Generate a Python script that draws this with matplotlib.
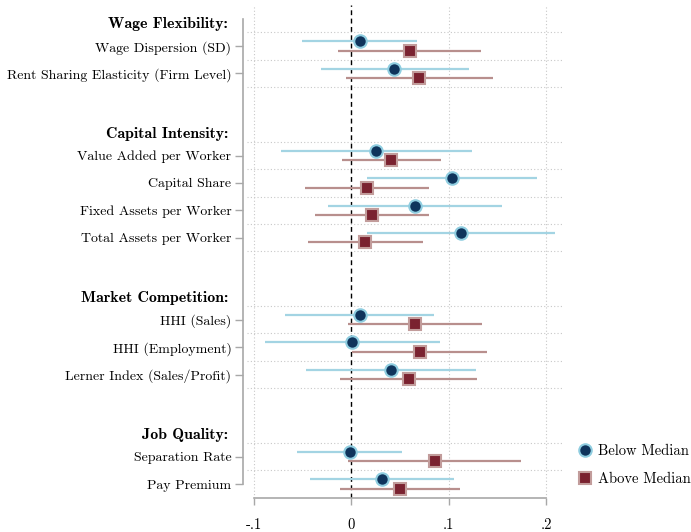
import numpy as np
import matplotlib.pyplot as plt
from matplotlib.lines import Line2D

plt.rcParams["font.family"] = ["cmr10", "DejaVu Serif"]
plt.rcParams["axes.formatter.use_mathtext"] = True

# Coefficients and 95% CIs by group (below / above median)
labels = ["Wage Dispersion (SD)", "Rent Sharing Elasticity (Firm Level)",
          "Value Added per Worker", "Capital Share", "Fixed Assets per Worker",
          "Total Assets per Worker",
          "HHI (Sales)", "HHI (Employment)", "Lerner Index (Sales/Profit)",
          "Separation Rate", "Pay Premium"]
headers = ["Wage Flexibility:", "Capital Intensity:", "Market Competition:", "Job Quality:"]
group_sizes = [2, 4, 3, 2]

below_b = [0.0085, 0.0441, 0.0256, 0.1032, 0.0656, 0.1121, 0.0085, 0.0010, 0.0406, -0.0017, 0.0314]
below_lo = [-0.0510, -0.0315, -0.0722, 0.0157, -0.0236, 0.0157, -0.0684, -0.0889, -0.0462, -0.0558, -0.0421]
below_hi = [0.0677, 0.1203, 0.1234, 0.1908, 0.1548, 0.2085, 0.0851, 0.0913, 0.1275, 0.0519, 0.1056]

above_b = [0.0598, 0.0697, 0.0406, 0.0157, 0.0208, 0.0143, 0.0656, 0.0700, 0.0591, 0.0854, 0.0499]
above_lo = [-0.0134, -0.0058, -0.0096, -0.0476, -0.0376, -0.0445, -0.0034, 0.0010, -0.0113, -0.0034, -0.0120]
above_hi = [0.1333, 0.1456, 0.0916, 0.0800, 0.0793, 0.0738, 0.1343, 0.1388, 0.1292, 0.1743, 0.1118]

# row positions: each group is preceded by a heading row plus a blank gap
pos = []
head_pos = []
gridpos = []
row = 0
for n in group_sizes:
    head_pos.append(row + 0.2)
    for k in range(n):
        pos.append(row + 1 + k)
    gridpos += [row + 0.5 + k for k in range(n + 1)]
    row += n + 2
pos = np.array(pos, dtype=float)

fig = plt.figure(figsize=(6.91, 5.32), dpi=100)
ax = fig.add_axes([0.357, 0.0645, 0.458, 0.9261])

light_blue = "#a3d4e3"
navy = "#0f345c"
rose = "#b88f8d"
maroon = "#7a2230"

# grid
for g in gridpos:
    if g < 17.4:
        ax.axhline(g, color="#c8c8c8", lw=0.8, ls=(0, (1, 2)), zorder=0)
for xv in [-0.1, 0.1, 0.2]:
    ax.axvline(xv, color="#c8c8c8", lw=0.8, ls=(0, (1, 2)), zorder=0)
ax.axvline(0, color="black", lw=1.0, ls=(0, (3.5, 2.5)), zorder=1)

off = 0.17
ax.hlines(pos - off, below_lo, below_hi, color=light_blue, lw=1.6, zorder=2)
ax.hlines(pos + off, above_lo, above_hi, color=rose, lw=1.6, zorder=2)
ax.plot(below_b, pos - off, "o", ms=9, mfc=navy, mec="#8fcde0", mew=1.5, ls="none", zorder=3)
ax.plot(above_b, pos + off, "s", ms=9, mfc=maroon, mec="#c29c9b", mew=1.5, ls="none", zorder=3)

ax.set_xlim(-0.1075, 0.2172)
ax.set_ylim(17.5, -0.5)

ax.set_yticks(pos)
ax.set_yticklabels(labels, fontsize=10.5)
for h, t in zip(head_pos, headers):
    ax.text(-0.1075 - 0.019, h, t, ha="right", va="center", fontsize=11.4,
            family=["cmb10", "DejaVu Serif"], transform=ax.transData, clip_on=False)

ax.set_xticks([-0.1, 0, 0.1, 0.2])
ax.set_xticklabels(["-.1", "0", ".1", ".2"], fontsize=10.5)

for s in ["top", "right"]:
    ax.spines[s].set_visible(False)
ax.spines["left"].set_position(("outward", 3))
ax.spines["left"].set_bounds(0, 17)
ax.spines["bottom"].set_bounds(-0.1, 0.2)
for s in ["left", "bottom"]:
    ax.spines[s].set_color("#a8a8a8")
    ax.spines[s].set_linewidth(1.2)
ax.tick_params(axis="y", length=6, width=1.0, color="#a8a8a8", pad=2)
ax.tick_params(axis="x", length=5, width=1.0, color="#a8a8a8", pad=10)

handles = [
    Line2D([], [], marker="o", ls="none", ms=9, mfc=navy, mec="#8fcde0", mew=1.5),
    Line2D([], [], marker="s", ls="none", ms=9, mfc=maroon, mec="#c29c9b", mew=1.5),
]
fig.legend(handles, ["Below Median", "Above Median"], loc="center left",
           bbox_to_anchor=(0.815, 0.126), frameon=False, fontsize=10.5,
           handletextpad=0.3, labelspacing=0.95, handlelength=1.2)

fig.savefig("out.png", dpi=100)
